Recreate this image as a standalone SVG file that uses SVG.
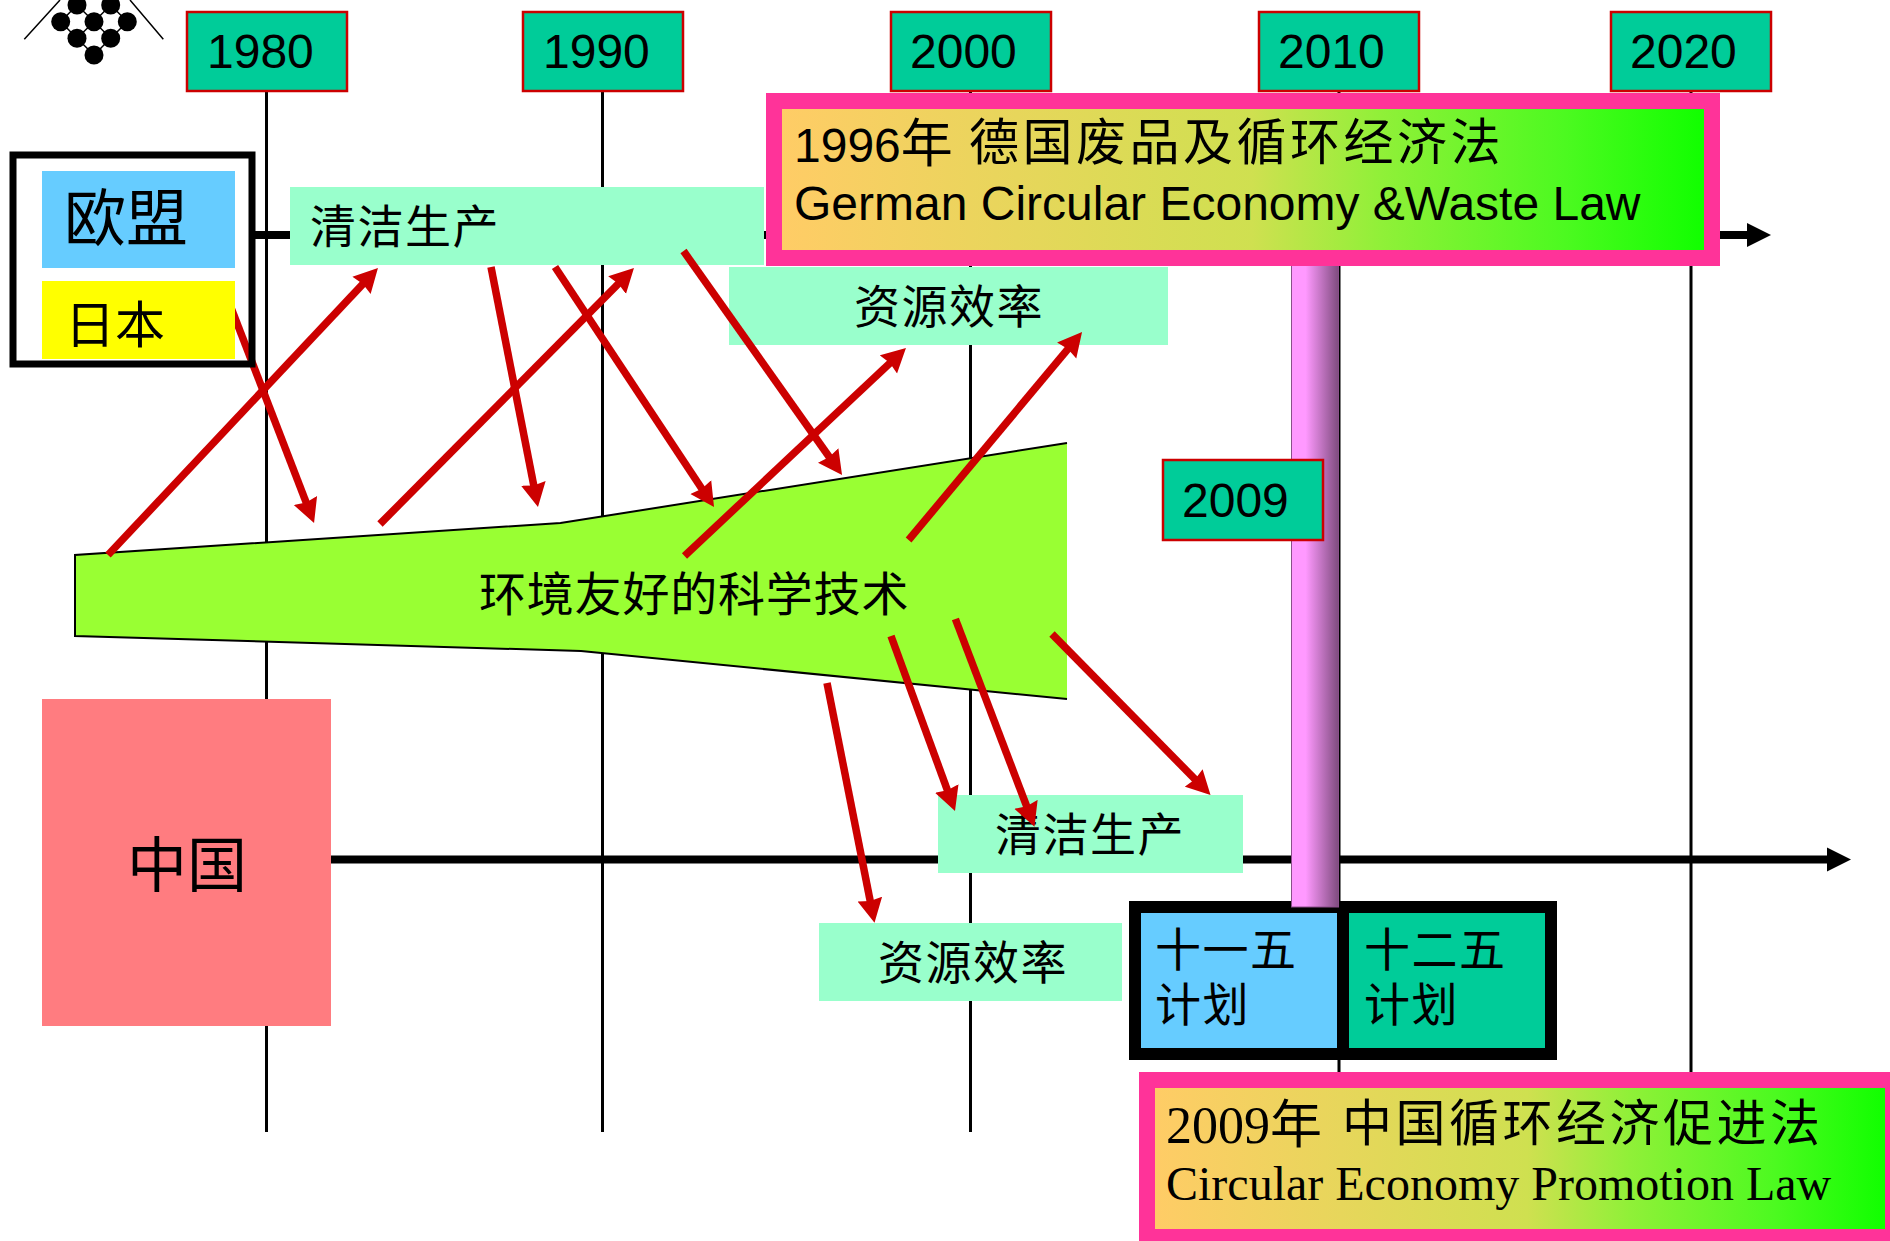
<svg xmlns="http://www.w3.org/2000/svg" width="1890" height="1241" viewBox="0 0 1890 1241">
<style>
.cjk{font-family:"Noto Sans CJK SC","Liberation Sans",sans-serif;fill:#000}
.yr{font-family:"Liberation Sans",Arial,sans-serif;font-size:48px;fill:#000}
.yb{fill:#00CC99;stroke:#CC0000;stroke-width:2.500}
.mint{fill:#99FFCC}
.v{stroke:#000;stroke-width:3;fill:none}
.axis{stroke:#000;stroke-width:8;fill:none}
.arr{stroke:#CC0000;stroke-width:7.500;fill:none;marker-end:url(#rh)}
.pink{fill:#FF3399}
.logo{stroke:#000;stroke-width:1.500;fill:none}
.m{font-size:46px;letter-spacing:1.500px}
</style>
<defs>
<marker id="rh" markerUnits="userSpaceOnUse" markerWidth="26" markerHeight="26" refX="8" refY="13" orient="auto"><path d="M0 0.500L24 13L0 25.500L2 13Z" fill="#CC0000"/></marker>
<marker id="kh" markerUnits="userSpaceOnUse" markerWidth="26" markerHeight="26" refX="2" refY="13" orient="auto"><path d="M0 1L24 13L0 25Z" fill="#000"/></marker>
<linearGradient id="law"><stop offset="0" stop-color="#FFCC66"/><stop offset=".51" stop-color="#CFE050"/><stop offset=".65" stop-color="#90F038"/><stop offset=".85" stop-color="#4CFA20"/><stop offset="1" stop-color="#11FF00"/></linearGradient>
<linearGradient id="bar"><stop offset="0" stop-color="#FF99FF"/><stop offset=".3" stop-color="#FF99FF"/><stop offset="1" stop-color="#7F4C7F"/></linearGradient>
</defs>
<g id="logo" class="logo">
<path d="M24.300 39.300L60 0M163.300 39.300L130 0M77 5L94 21.700L110.700 5M60.700 21.700L77 38.300L94 55L110.700 38.300L127.300 21.700M77 38.300L94 21.700L110.700 38.300M77 5L60.700 21.700M110.700 5L127.300 21.700"/>
<g fill="#000" stroke="none"><circle cx="77" cy="5" r="9.500"/><circle cx="110.700" cy="5" r="9.500"/><circle cx="60.700" cy="21.700" r="9.500"/><circle cx="94" cy="21.700" r="9.500"/><circle cx="127.300" cy="21.700" r="9.500"/><circle cx="77" cy="38.300" r="9.500"/><circle cx="110.700" cy="38.300" r="9.500"/><circle cx="94" cy="55" r="9.500"/></g>
</g>
<g id="timelines">
<path class="v" d="M266.500 91V1132M602.500 91V1132M970.500 91V1132M1339 91V1080M1691 91V1080"/>
<path class="axis" d="M255 235H1749" marker-end="url(#kh)"/>
<path class="axis" d="M331 859.500H1829" marker-end="url(#kh)"/>
</g>
<g id="y1980"><rect class="yb" x="187" y="12" width="160" height="79"/><text class="yr" x="207" y="68">1980</text></g>
<g id="y1990"><rect class="yb" x="523" y="12" width="160" height="79"/><text class="yr" x="543" y="68">1990</text></g>
<g id="y2000"><rect class="yb" x="891" y="12" width="160" height="79"/><text class="yr" x="910" y="68">2000</text></g>
<g id="y2010"><rect class="yb" x="1259" y="12" width="160" height="79"/><text class="yr" x="1278" y="68">2010</text></g>
<g id="y2020"><rect class="yb" x="1611" y="12" width="160" height="79"/><text class="yr" x="1630" y="68">2020</text></g>
<g id="tech"><path d="M75 555L560.500 523L1067 443V699L581 651L75 636Z" fill="#99FF33"/><path d="M1067 443L560.500 523L75 555V636L581 651L1067 699" fill="none" stroke="#000" stroke-width="2"/><text class="cjk" x="479" y="611" font-size="47" letter-spacing="0.800">环境友好的科学技术</text></g>
<g id="mint-eu-clean"><rect class="mint" x="290" y="187" width="474" height="78"/><text class="cjk m" x="310" y="243">清洁生产</text></g>
<g id="mint-eu-res"><rect class="mint" x="729" y="267" width="439" height="78"/><text class="cjk m" x="854" y="323">资源效率</text></g>
<g id="mint-cn-clean"><rect class="mint" x="938" y="795" width="305" height="78"/><text class="cjk m" x="995" y="851">清洁生产</text></g>
<g id="mint-cn-res"><rect class="mint" x="819" y="923" width="303" height="78"/><text class="cjk m" x="878" y="979">资源效率</text></g>
<g id="connectors">
<path class="arr" d="M108 555L367 279.600"/>
<path class="arr" d="M225 292L308.300 508"/>
<path class="arr" d="M380 524L622.700 279.400"/>
<path class="arr" d="M491 267L534.900 491.300"/>
<path class="arr" d="M555 267L705.200 493.700"/>
<path class="arr" d="M683.500 251L832.800 462"/>
<path class="arr" d="M684.500 556L894.300 359"/>
<path class="arr" d="M908.600 540L1071.800 344.300"/>
<path class="arr" d="M827 683L871.400 907"/>
<path class="arr" d="M891 636L949.500 796"/>
<path class="arr" d="M955.400 619L1028.800 811.800"/>
<path class="arr" d="M1052 634L1199.300 783.600"/>
</g>
<g id="eu-frame"><rect x="13" y="155" width="239" height="209" fill="none" stroke="#000" stroke-width="7"/></g>
<g id="eu"><rect x="42" y="171" width="193" height="97" fill="#66CCFF"/><text class="cjk" x="64" y="241" font-size="62">欧盟</text></g>
<g id="japan"><rect x="42" y="281" width="193" height="78" fill="#FFFF00"/><text class="cjk" x="65" y="343" font-size="50">日本</text></g>
<g id="china"><rect x="42" y="699" width="289" height="327" fill="#FF7C80"/><text class="cjk" x="127" y="887" font-size="60">中国</text></g>
<g id="plans"><rect x="1129" y="901" width="428" height="159" fill="#000"/><rect x="1141" y="913" width="196" height="135" fill="#66CCFF"/><rect x="1349" y="913" width="196" height="135" fill="#00CC99"/>
<text class="cjk m" x="1155" y="966">十一五</text><text class="cjk m" x="1155" y="1021">计划</text>
<text class="cjk m" x="1364" y="966">十二五</text><text class="cjk m" x="1364" y="1021">计划</text></g>
<g id="y2009"><rect x="1291.500" y="240" width="47" height="667" fill="url(#bar)" stroke="#8A4F8A" stroke-width="1"/><rect class="yb" x="1163" y="460" width="160" height="80"/><text class="yr" x="1182" y="517">2009</text></g>
<g id="law1996"><rect class="pink" x="766" y="93" width="954" height="173"/><rect x="782" y="109" width="922" height="141" fill="url(#law)"/>
<text x="794" y="162" font-size="48" font-family="Liberation Sans,Arial,sans-serif">1996<tspan class="cjk" font-size="52">年</tspan></text><text class="cjk" x="969" y="160" font-size="50" letter-spacing="3.500">德国废品及循环经济法</text>
<text x="794" y="220" font-size="48" font-family="Liberation Sans,Arial,sans-serif">German Circular Economy &amp;Waste Law</text></g>
<g id="law2009"><rect class="pink" x="1139" y="1072" width="751" height="169"/><rect x="1155" y="1088" width="730" height="141" fill="url(#law)"/>
<text x="1166" y="1143" font-size="52" font-family="Liberation Serif,Times New Roman,serif">2009<tspan class="cjk">年</tspan></text><text class="cjk" x="1342" y="1141" font-size="50" letter-spacing="3.500">中国循环经济促进法</text>
<text x="1166" y="1200" font-size="48" font-family="Liberation Serif,Times New Roman,serif">Circular Economy Promotion Law</text></g>
</svg>
